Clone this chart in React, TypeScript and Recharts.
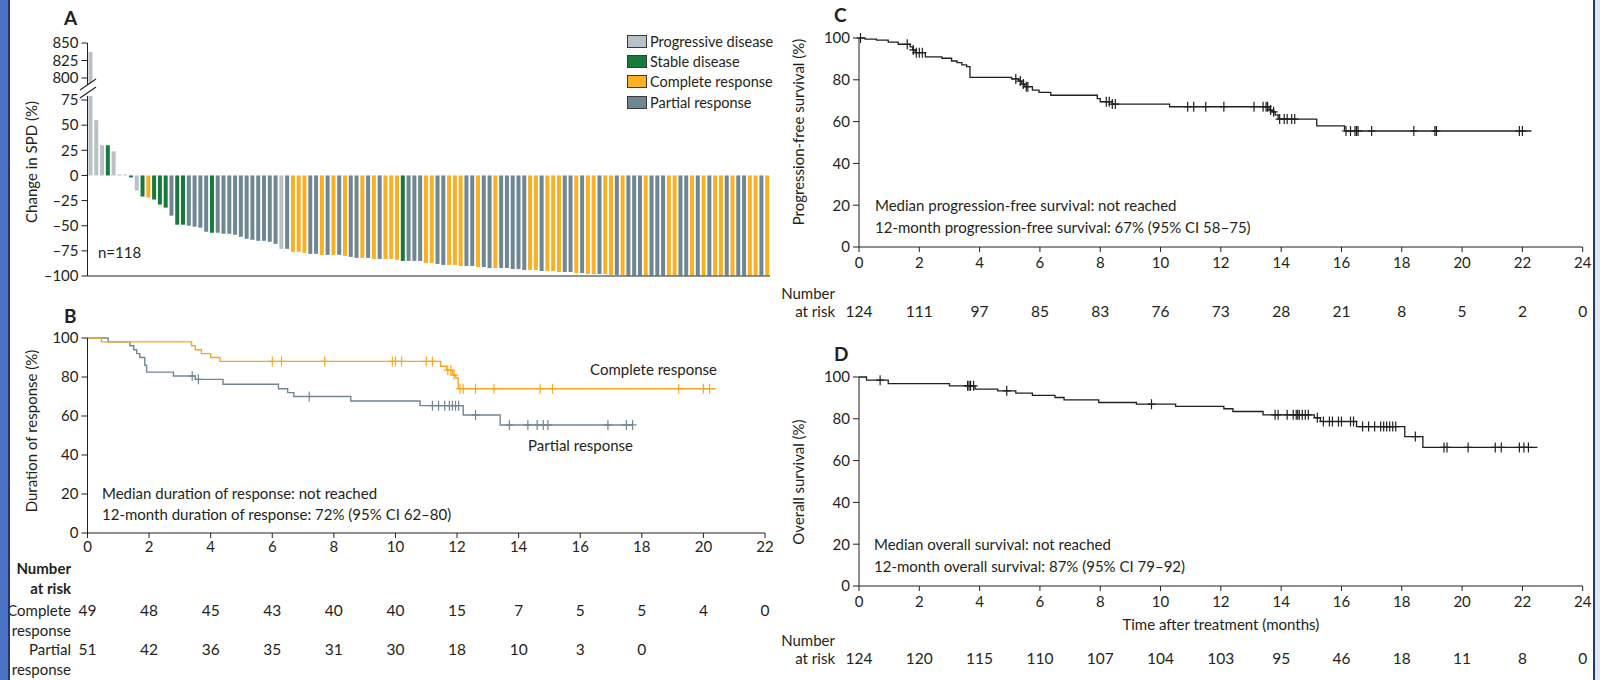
import React from "react";
import {
  BarChart,
  Bar,
  Cell,
  ComposedChart,
  Line,
  Scatter,
  XAxis,
  YAxis,
} from "recharts";

const INK = "#231f20";
const FONT = "Lato, 'Noto Sans', sans-serif";

// response category colours
const COLORS: Record<string, string> = {
  P: "#b9c0c6", // progressive disease
  S: "#167a3d", // stable disease
  C: "#fbb024", // complete response
  R: "#6f8792", // partial response
};

// Panel A: best change in SPD, one value per patient (sorted)
const spdChange = [
  837, 55, 30, 30, 24, 1, 1, -2, -15, -21,
  -22, -24, -29, -32, -40, -49, -49, -50, -51, -52,
  -56, -57, -57, -58, -58, -59, -61, -63, -64, -65,
  -65, -66, -68, -73, -73, -76, -76, -77, -78, -78,
  -79, -79, -79, -79, -80, -81, -82, -82, -82, -83,
  -83, -83, -83, -84, -85, -85, -85, -85, -87, -87,
  -88, -89, -89, -89, -90, -90, -90, -91, -91, -92,
  -92, -92, -92, -93, -93, -94, -94, -94, -95, -95,
  -95, -96, -96, -96, -97, -97, -98, -98, -98, -98,
  -99, -99, -99, -100, -100, -100, -100, -100, -100, -100,
  -100, -100, -100, -100, -100, -100, -100, -100, -100, -100,
  -100, -100, -100, -100, -100, -100, -100, -100,
];
const spdResponse = [
  "P", "P", "P", "S", "P", "P", "P", "S", "P", "S",
  "C", "S", "S", "S", "R", "S", "S", "R", "R", "R",
  "R", "S", "R", "R", "R", "R", "R", "R", "R", "R",
  "R", "R", "R", "P", "R", "C", "C", "C", "R", "R",
  "C", "R", "C", "R", "C", "R", "R", "C", "R", "C",
  "R", "C", "C", "C", "S", "R", "R", "R", "C", "C",
  "R", "R", "C", "C", "C", "R", "R", "C", "R", "R",
  "C", "R", "R", "R", "R", "R", "C", "C", "R", "C",
  "C", "C", "R", "R", "C", "R", "C", "C", "R", "C",
  "C", "R", "C", "R", "R", "R", "C", "R", "R", "R",
  "C", "C", "R", "R", "C", "R", "C", "R", "C", "C",
  "R", "C", "R", "R", "C", "C", "R", "C",
];
const spdTicksLow = [-100, -75, -50, -25, 0, 25, 50, 75];
const spdTicksHigh = [800, 825, 850];

// Panel B: duration of response, [months, %]
const durComplete: [number, number][] = [
  [0, 100], [0.45, 98], [3.38, 96], [3.5, 94], [3.7, 92], [4.0, 90], [4.3, 88],
  [11.47, 85.5], [11.66, 83.5], [11.86, 81], [11.96, 79.5], [12.04, 74], [20.4, 74],
];
const durCompleteCensor = [
  6.0, 6.3, 7.7, 9.9, 10.0, 10.2, 11.0, 11.2, 11.7, 11.8, 11.9, 12.1, 12.2, 12.6,
  13.2, 14.7, 15.1, 19.2, 20.0, 20.2,
];
const durPartial: [number, number][] = [
  [0, 100], [0.67, 98], [1.38, 96], [1.5, 94], [1.6, 92], [1.7, 90], [1.86, 86],
  [1.92, 82.5], [2.79, 80.5], [3.5, 78.8], [4.4, 76.3], [6.2, 74], [6.5, 72],
  [6.7, 70], [8.55, 67.7], [10.8, 65.3], [12.2, 60.5], [13.4, 55.4], [17.7, 55.4],
];
const durPartialCensor = [
  3.4, 3.6, 7.2, 11.2, 11.4, 11.6, 11.75, 11.85, 11.95, 12.05, 12.6, 13.7, 14.3,
  14.6, 14.8, 14.95, 16.9, 17.5, 17.7,
];
const riskComplete = [49, 48, 45, 43, 40, 40, 15, 7, 5, 5, 4, 0];
const riskPartial = [51, 42, 36, 35, 31, 30, 18, 10, 3, 0];
const ticksB = [0, 2, 4, 6, 8, 10, 12, 14, 16, 18, 20, 22];

// Panel C: progression-free survival
const pfsCurve: [number, number][] = [
  [0, 100], [0.2, 99.5], [0.58, 99], [0.97, 98], [1.3, 97], [1.7, 95.8], [1.78, 94.3],
  [1.86, 93], [2.2, 91], [2.75, 90.3], [3.07, 89], [3.25, 88.2], [3.41, 87.1],
  [3.57, 86.3], [3.68, 81.2], [5.06, 80.4], [5.3, 79.4], [5.4, 78], [5.5, 76.7],
  [5.75, 75.1], [5.97, 74], [6.36, 72.6], [7.9, 71], [8.0, 69.5], [8.4, 68.4],
  [10.3, 67.1], [13.6, 65.5], [13.7, 64.7], [13.8, 63.2], [13.9, 61.2], [15.18, 58],
  [16.1, 55.5], [22.3, 55.5],
];
const pfsCensor = [
  0.05, 1.6, 1.8, 1.9, 2.0, 2.1, 5.2, 5.35, 5.45, 5.55, 5.6, 8.2, 8.3, 8.4, 8.5,
  10.9, 11.1, 11.5, 12.1, 13.1, 13.4, 13.5, 13.55, 13.65, 13.75, 13.95, 14.1, 14.2,
  14.35, 14.45, 16.15, 16.3, 16.45, 16.5, 16.55, 17.0, 18.4, 19.1, 19.15, 21.9, 22.0,
];
const riskPfs = [124, 111, 97, 85, 83, 76, 73, 28, 21, 8, 5, 2, 0];

// Panel D: overall survival
const osCurve: [number, number][] = [
  [0, 100], [0.25, 98.5], [0.97, 96.8], [3.0, 95.8], [3.85, 94.2], [4.6, 93.4],
  [5.2, 92.3], [5.75, 91.2], [6.5, 90.2], [6.8, 89.1], [7.95, 87.8], [9.2, 87],
  [10.5, 85.9], [12.1, 84.8], [12.4, 83.5], [13.4, 81.9], [15.1, 80.5], [15.3, 78.7],
  [16.5, 76.3], [18.1, 71.5], [18.7, 66.3], [22.5, 66.3],
];
const osCensor = [
  0.7, 3.6, 3.65, 3.7, 3.8, 4.9, 9.7, 13.8, 13.9, 14.2, 14.4, 14.5, 14.55, 14.6,
  14.7, 14.8, 14.9, 15.2, 15.4, 15.6, 15.7, 15.9, 16.0, 16.3, 16.4, 16.7, 16.9,
  17.1, 17.3, 17.4, 17.5, 17.6, 17.7, 17.8, 18.45, 19.4, 19.5, 20.2, 21.1, 21.3,
  21.9, 22.05, 22.2,
];
const riskOs = [124, 120, 115, 110, 107, 104, 103, 95, 46, 18, 11, 8, 0];
const ticksCD = [0, 2, 4, 6, 8, 10, 12, 14, 16, 18, 20, 22, 24];
const ticksPct = [0, 20, 40, 60, 80, 100];

const waterfall = spdChange.map((v, i) => ({ id: i + 1, value: v, resp: spdResponse[i] }));

const toPts = (c: [number, number][]) => c.map(([t, s]) => ({ t, s }));
// survival at a censoring time = value of the step curve there
const stepAt = (c: [number, number][], t: number) => {
  let s = c[0][1];
  for (const [ti, si] of c) if (ti <= t) s = si;
  return s;
};
const censorPts = (c: [number, number][], times: number[]) =>
  times.map((t) => ({ t, s: stepAt(c, t) }));
// number-at-risk rows: one point per tick, row = vertical slot
const riskRow = (counts: number[], ticks: number[], row: number) =>
  counts.map((n, i) => ({ t: ticks[i], row, n }));

const tickStyle = { fill: INK, fontSize: 15 };
const signed = (v: number) => (v < 0 ? `–${-v}` : `${v}`);

const censorShape = (color: string) => (p: any) => (
  <path
    d={`M${p.cx - 4},${p.cy}H${p.cx + 4}M${p.cx},${p.cy - 5}V${p.cy + 5}`}
    stroke={color}
    strokeWidth={1.2}
    fill="none"
  />
);

const riskText = (p: any) => (
  <text
    x={p.cx}
    y={p.cy}
    textAnchor="middle"
    dominantBaseline="central"
    fontSize={15.5}
    fill={INK}
  >
    {p.payload?.n ?? p.n}
  </text>
);

function Txt({ x, y, children, size = 15, anchor = "start", bold = false }: any) {
  const st: React.CSSProperties = {
    position: "absolute",
    top: y - 10,
    lineHeight: "20px",
    fontSize: size,
    fontWeight: bold ? 700 : 400,
    whiteSpace: "nowrap",
  };
  if (anchor === "end") st.right = 1600 - x;
  else st.left = x;
  return <div style={st}>{children}</div>;
}

function VTitle({ x, y, children }: any) {
  return (
    <div
      style={{
        position: "absolute",
        left: x,
        top: y,
        transform: "translate(-50%, -50%) rotate(-90deg)",
        whiteSpace: "nowrap",
        fontSize: 15,
        lineHeight: "18px",
      }}
    >
      {children}
    </div>
  );
}

// rows of numbers at risk, placed by the same time scale as the plot above
function RiskTable({ left, top, width, plotTop, plotHeight, yWidth, right, max, data }: any) {
  return (
    <div style={{ position: "absolute", left, top }}>
      <ComposedChart
        width={width}
        height={plotTop + plotHeight + 20}
        margin={{ top: plotTop, right, bottom: 20, left: yWidth }}
      >
        <XAxis type="number" dataKey="t" domain={[0, max]} hide />
        <YAxis type="number" dataKey="row" domain={[0, 1]} hide />
        <Scatter data={data} shape={riskText} isAnimationActive={false} />
      </ComposedChart>
    </div>
  );
}

const legendItems = [
  { key: "P", label: "Progressive disease" },
  { key: "S", label: "Stable disease" },
  { key: "C", label: "Complete response" },
  { key: "R", label: "Partial response" },
];

export default function App() {
  return (
    <div
      style={{
        position: "absolute",
        left: 0,
        top: 0,
        width: 1600,
        height: 680,
        background: "#fff",
        fontFamily: FONT,
        color: INK,
        overflow: "hidden",
      }}
    >
      {/* Panel A, upper (broken) part */}
      <div style={{ position: "absolute", left: 0, top: 25 }}>
        <BarChart
          width={780}
          height={62}
          data={waterfall}
          margin={{ top: 18, right: 10, bottom: 2, left: 0 }}
          barCategoryGap="17%"
        >
          <XAxis dataKey="id" hide />
          <YAxis
            width={87.5}
            domain={[790, 850]}
            ticks={spdTicksHigh}
            allowDataOverflow
            interval={0}
            stroke={INK}
            tick={tickStyle}
            tickSize={6}
            tickMargin={3}
          />
          <Bar
            dataKey={(d: any) => (d.value > 790 ? d.value : null)}
            isAnimationActive={false}
          >
            {waterfall.map((d) => (
              <Cell key={d.id} fill={COLORS[d.resp]} />
            ))}
          </Bar>
        </BarChart>
      </div>

      {/* Panel A, main part */}
      <div style={{ position: "absolute", left: 0, top: 88 }}>
        <BarChart
          width={780}
          height={200}
          data={waterfall}
          margin={{ top: 8, right: 10, bottom: 2, left: 0 }}
          barCategoryGap="17%"
        >
          <XAxis
            dataKey="id"
            tick={false}
            tickLine={false}
            height={10}
            stroke="#6d6e70"
            strokeWidth={1.5}
          />
          <YAxis
            width={87.5}
            domain={[-100, 79]}
            ticks={spdTicksLow}
            allowDataOverflow
            interval={0}
            stroke={INK}
            tick={tickStyle}
            tickSize={6}
            tickMargin={3}
            tickFormatter={signed}
          />
          <Bar dataKey="value" isAnimationActive={false}>
            {waterfall.map((d) => (
              <Cell key={d.id} fill={COLORS[d.resp]} />
            ))}
          </Bar>
        </BarChart>
      </div>

      {/* axis break */}
      <svg style={{ position: "absolute", left: 0, top: 0 }} width={120} height={120}>
        <polygon points="80,90 96,79 96,87 80,98" fill="#fff" />
        <line x1={80} y1={90} x2={96} y2={79} stroke={INK} strokeWidth={1.1} />
        <line x1={80} y1={98} x2={96} y2={87} stroke={INK} strokeWidth={1.1} />
      </svg>

      {/* Panel A legend */}
      {legendItems.map((it, i) => (
        <div
          key={it.key}
          style={{
            position: "absolute",
            left: 627,
            top: 31 + i * 20.4,
            display: "flex",
            alignItems: "center",
            height: 20,
            fontSize: 14.5,
          }}
        >
          <span
            style={{
              width: 18,
              height: 11,
              background: COLORS[it.key],
              border: "1px solid #3a3a3a",
              marginRight: 3,
            }}
          />
          {it.label}
        </div>
      ))}

      {/* Panel B */}
      <div style={{ position: "absolute", left: 0, top: 320 }}>
        <ComposedChart width={780} height={245} margin={{ top: 18, right: 15, bottom: 2, left: 0 }}>
          <XAxis
            type="number"
            dataKey="t"
            domain={[0, 22]}
            ticks={ticksB}
            interval={0}
            height={30}
            stroke={INK}
            tick={tickStyle}
            tickSize={5}
            tickMargin={3}
          />
          <YAxis
            dataKey="s"
            width={87.5}
            domain={[0, 100]}
            ticks={ticksPct}
            interval={0}
            stroke={INK}
            tick={tickStyle}
            tickSize={6}
            tickMargin={3}
          />
          <Line
            data={toPts(durPartial)}
            dataKey="s"
            type="stepAfter"
            stroke="#6f8792"
            strokeWidth={1.4}
            dot={false}
            activeDot={false}
            isAnimationActive={false}
          />
          <Line
            data={toPts(durComplete)}
            dataKey="s"
            type="stepAfter"
            stroke="#f7a823"
            strokeWidth={1.4}
            dot={false}
            activeDot={false}
            isAnimationActive={false}
          />
          <Scatter
            data={censorPts(durPartial, durPartialCensor)}
            shape={censorShape("#6f8792")}
            isAnimationActive={false}
          />
          <Scatter
            data={censorPts(durComplete, durCompleteCensor)}
            shape={censorShape("#f7a823")}
            isAnimationActive={false}
          />
        </ComposedChart>
      </div>
      <RiskTable
        left={0}
        top={590}
        width={780}
        plotTop={20}
        plotHeight={39}
        yWidth={87.5}
        right={15}
        max={22}
        data={[...riskRow(riskComplete, ticksB, 1), ...riskRow(riskPartial, ticksB, 0)]}
      />

      {/* Panel C */}
      <div style={{ position: "absolute", left: 780, top: 20 }}>
        <ComposedChart width={820} height={259} margin={{ top: 18, right: 17.3, bottom: 2, left: 0 }}>
          <XAxis
            type="number"
            dataKey="t"
            domain={[0, 24]}
            ticks={ticksCD}
            interval={0}
            height={30}
            stroke={INK}
            tick={tickStyle}
            tickSize={5}
            tickMargin={5}
          />
          <YAxis
            dataKey="s"
            width={79}
            domain={[0, 100]}
            ticks={ticksPct}
            interval={0}
            stroke={INK}
            tick={tickStyle}
            tickSize={6}
            tickMargin={3}
          />
          <Line
            data={toPts(pfsCurve)}
            dataKey="s"
            type="stepAfter"
            stroke={INK}
            strokeWidth={1.3}
            dot={false}
            activeDot={false}
            isAnimationActive={false}
          />
          <Scatter
            data={censorPts(pfsCurve, pfsCensor)}
            shape={censorShape(INK)}
            isAnimationActive={false}
          />
        </ComposedChart>
      </div>
      <RiskTable
        left={780}
        top={291}
        width={820}
        plotTop={10}
        plotHeight={20}
        yWidth={79}
        right={17.3}
        max={24}
        data={riskRow(riskPfs, ticksCD, 0.5)}
      />

      {/* Panel D */}
      <div style={{ position: "absolute", left: 780, top: 359 }}>
        <ComposedChart width={820} height={273} margin={{ top: 18, right: 17.3, bottom: 0, left: 0 }}>
          <XAxis
            type="number"
            dataKey="t"
            domain={[0, 24]}
            ticks={ticksCD}
            interval={0}
            height={46}
            stroke={INK}
            tick={tickStyle}
            tickSize={5}
            tickMargin={5}
            label={{
              value: "Time after treatment (months)",
              position: "insideBottom",
              offset: 2,
              fill: INK,
              fontSize: 15,
            }}
          />
          <YAxis
            dataKey="s"
            width={79}
            domain={[0, 100]}
            ticks={ticksPct}
            interval={0}
            stroke={INK}
            tick={tickStyle}
            tickSize={6}
            tickMargin={3}
          />
          <Line
            data={toPts(osCurve)}
            dataKey="s"
            type="stepAfter"
            stroke={INK}
            strokeWidth={1.3}
            dot={false}
            activeDot={false}
            isAnimationActive={false}
          />
          <Scatter
            data={censorPts(osCurve, osCensor)}
            shape={censorShape(INK)}
            isAnimationActive={false}
          />
        </ComposedChart>
      </div>
      <RiskTable
        left={780}
        top={638}
        width={820}
        plotTop={10}
        plotHeight={20}
        yWidth={79}
        right={17.3}
        max={24}
        data={riskRow(riskOs, ticksCD, 0.5)}
      />

      {/* panel letters */}
      <Txt x={64} y={18} size={19} bold>A</Txt>
      <Txt x={64} y={316} size={19} bold>B</Txt>
      <Txt x={834} y={15} size={19} bold>C</Txt>
      <Txt x={834} y={354} size={19} bold>D</Txt>

      {/* axis titles */}
      <VTitle x={31} y={162}>Change in SPD (%)</VTitle>
      <VTitle x={31} y={431}>Duration of response (%)</VTitle>
      <VTitle x={798} y={132}>Progression-free survival (%)</VTitle>
      <VTitle x={798} y={482}>Overall survival (%)</VTitle>

      {/* annotations */}
      <Txt x={98} y={252}>n=118</Txt>
      <Txt x={717} y={369} anchor="end">Complete response</Txt>
      <Txt x={633} y={445} anchor="end">Partial response</Txt>
      <Txt x={102} y={493}>Median duration of response: not reached</Txt>
      <Txt x={102} y={514}>12-month duration of response: 72% (95% CI 62–80)</Txt>
      <Txt x={875} y={205}>Median progression-free survival: not reached</Txt>
      <Txt x={875} y={227}>12-month progression-free survival: 67% (95% CI 58–75)</Txt>
      <Txt x={874} y={544}>Median overall survival: not reached</Txt>
      <Txt x={874} y={566}>12-month overall survival: 87% (95% CI 79–92)</Txt>

      {/* number at risk headers */}
      <Txt x={71} y={568} anchor="end" bold>Number</Txt>
      <Txt x={71} y={588} anchor="end" bold>at risk</Txt>
      <Txt x={71} y={610} anchor="end">Complete</Txt>
      <Txt x={71} y={630} anchor="end">response</Txt>
      <Txt x={71} y={649} anchor="end">Partial</Txt>
      <Txt x={71} y={669} anchor="end">response</Txt>
      <Txt x={835} y={293} anchor="end">Number</Txt>
      <Txt x={835} y={311} anchor="end">at risk</Txt>
      <Txt x={835} y={640} anchor="end">Number</Txt>
      <Txt x={835} y={658} anchor="end">at risk</Txt>

      {/* page frame */}
      <div style={{ position: "absolute", left: 0, top: 0, width: 8, height: 680, background: "#4a72c4" }} />
      <div style={{ position: "absolute", left: 8, top: 0, width: 2, height: 680, background: "#22396f" }} />
      <div style={{ position: "absolute", left: 1593, top: 0, width: 2, height: 680, background: "#22396f" }} />
      <div style={{ position: "absolute", left: 1595, top: 0, width: 5, height: 680, background: "#dfe6f3" }} />
    </div>
  );
}
